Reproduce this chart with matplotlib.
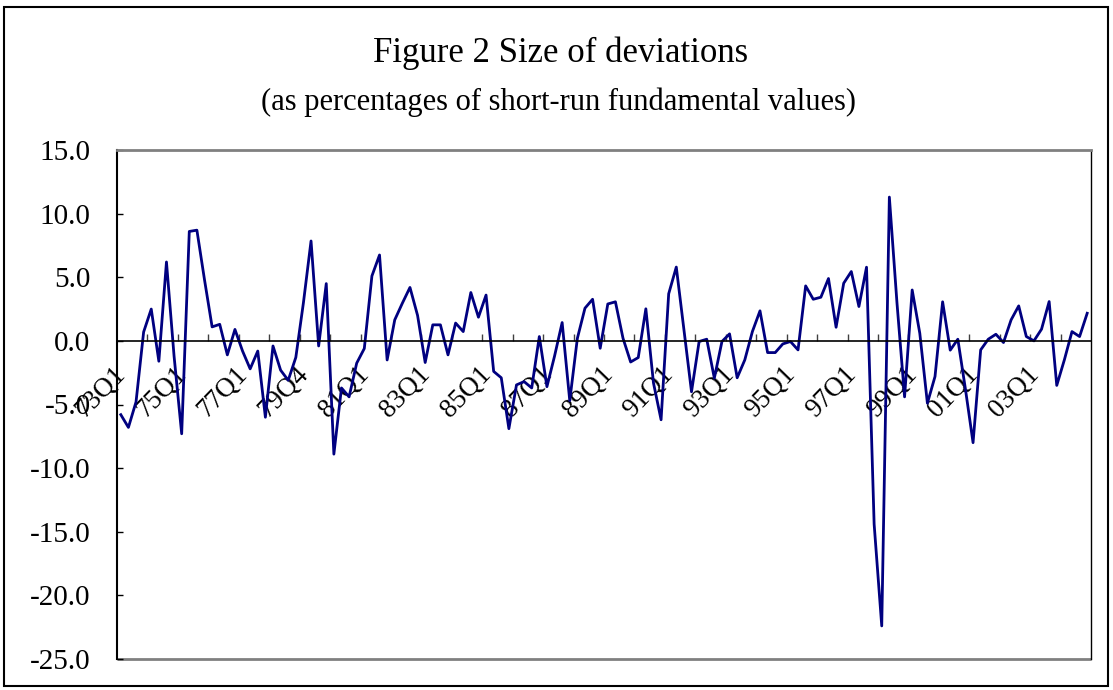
import matplotlib
matplotlib.use('Agg')
import matplotlib.pyplot as plt
import matplotlib.patches as mpatches
from matplotlib.transforms import ScaledTranslation

plt.rcParams['font.family'] = ['Liberation Serif', 'DejaVu Serif']

# Quarterly deviations, 73Q1 .. 04Q4
deviations = [
    -5.8, -6.8, -4.8, 0.7, 2.5, -1.6, 6.2, -1.2,
    -7.3, 8.6, 8.7, 4.8, 1.1, 1.3, -1.1, 0.9,
    -0.8, -2.2, -0.8, -6.0, -0.4, -2.3, -3.1, -1.3,
    3.0, 7.85, -0.4, 4.5, -8.9, -3.7, -4.4, -1.75,
    -0.6, 5.1, 6.75, -1.5, 1.65, 2.96, 4.2, 2.0,
    -1.7, 1.26, 1.26, -1.1, 1.4, 0.73, 3.8, 1.86,
    3.6, -2.4, -2.9, -6.9, -3.46, -3.2, -3.7, 0.34,
    -3.6, -1.2, 1.44, -4.7, 0.2, 2.57, 3.27, -0.58,
    2.9, 3.07, 0.2, -1.66, -1.31, 2.52, -3.3, -6.2,
    3.7, 5.8, 0.9, -4.0, -0.05, 0.13, -2.93, -0.05,
    0.55, -2.9, -1.5, 0.73, 2.36, -0.92, -0.92, -0.24,
    -0.05, -0.71, 4.32, 3.27, 3.43, 4.9, 1.07, 4.53,
    5.45, 2.7, 5.79, -14.4, -22.4, 11.3, 3.0, -4.4,
    4.0, 0.6, -4.9, -2.8, 3.07, -0.73, 0.13, -3.8,
    -8.0, -0.71, 0.13, 0.52, -0.13, 1.65, 2.75, 0.34,
    0.0, 0.92, 3.09, -3.5, -1.49, 0.73, 0.34, 2.17,
]
tick_labels = ['73Q1', '75Q1', '77Q1', '79Q4', '81Q1', '83Q1', '85Q1', '87Q1',
               '89Q1', '91Q1', '93Q1', '95Q1', '97Q1', '99Q1', '01Q1', '03Q1']
y_ticks = [15, 10, 5, 0, -5, -10, -15, -20, -25]

fig = plt.figure(figsize=(11.13, 6.9), dpi=100)
ax = fig.add_axes([117 / 1113, 1 - 659 / 690, 974 / 1113, 509 / 690])

n = len(deviations)
ax.plot(range(n), deviations, color='#000080', lw=2.0)

ax.set_xlim(-0.5, n - 0.5)
ax.set_ylim(-25, 15)

# y axis
ax.set_yticks(y_ticks)
ax.set_yticklabels(['%.1f' % v for v in y_ticks])
ax.tick_params(axis='y', direction='in', length=4.5, width=1, pad=19, labelsize=21)

# category axis crossing at zero
ax.spines['bottom'].set_position(('data', 0))
ax.spines['bottom'].set_linewidth(1.2)
ax.spines['left'].set_linewidth(1.5)
ax.spines['top'].set_color('#808080')
ax.spines['top'].set_linewidth(2)
ax.spines['right'].set_color('#000000')
ax.spines['right'].set_linewidth(1)
ax.add_patch(mpatches.Rectangle((0, 0), 1, 0, transform=ax.transAxes, fill=False,
                                edgecolor='#808080', lw=2, clip_on=False))

ax.set_xticks(range(0, n, 8))
ax.set_xticklabels(tick_labels, rotation=46, ha='right', rotation_mode='anchor')
ax.set_xticks([i - 0.5 for i in range(4, n, 4)], minor=True)
ax.tick_params(axis='x', which='major', length=0, pad=15, labelsize=19.5)
ax.tick_params(axis='x', which='minor', direction='in', length=5, width=1, color='#404040')
shift = ScaledTranslation(-8 / 100, 0, fig.dpi_scale_trans)
for lab in ax.get_xticklabels():
    lab.set_transform(lab.get_transform() + shift)

fig.text(0.5036, 1 - 62 / 690, 'Figure 2 Size of deviations', ha='center',
         va='baseline', fontsize=25)
fig.text(0.5018, 1 - 110 / 690, '(as percentages of short-run fundamental values)',
         ha='center', va='baseline', fontsize=22)

# chart border
fig.patches.append(mpatches.Rectangle((4 / 1113, 4 / 690), 1104 / 1113, 679 / 690,
                                      transform=fig.transFigure, fill=False,
                                      edgecolor='black', lw=1.5))

fig.savefig('out.png', dpi=100)
